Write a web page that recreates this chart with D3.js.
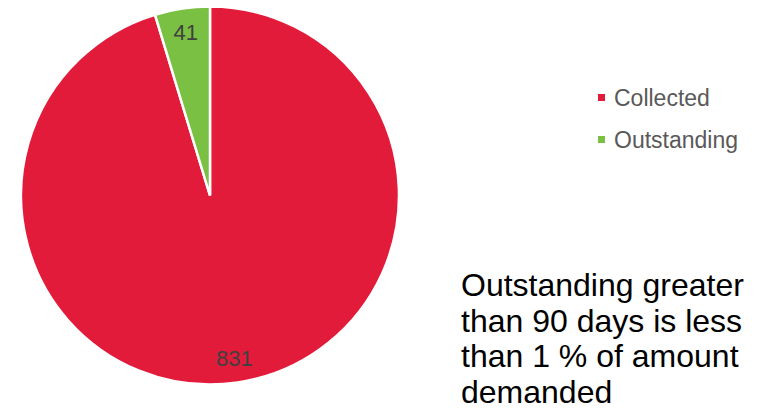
<!DOCTYPE html>
<html>
<head>
<meta charset="utf-8">
<script src="https://cdn.jsdelivr.net/npm/d3@7"></script>
<style>
  body { margin: 0; background: #fff; }
  svg { display: block; font-family: Arial, "Liberation Sans", sans-serif; }
</style>
</head>
<body>
<svg id="chart" width="758" height="411"></svg>
<script>
const categories = ['Collected', 'Outstanding'];
const values = [831, 41];
const colors = ['#E31B3A', '#7AC143'];
const note = ['Outstanding greater', 'than 90 days is less', 'than 1 % of amount', 'demanded'];

const svg = d3.select('#chart');
const cx = 210, cy = 195.5, radius = 189;

const data = categories.map((c, i) => ({ name: c, value: values[i], color: colors[i] }));

const pie = d3.pie().sort(null).value(d => d.value);
const arc = d3.arc().innerRadius(0).outerRadius(radius);
const labelArc = d3.arc().innerRadius(165).outerRadius(165);

const g = svg.append('g').attr('transform', 'translate(' + cx + ',' + cy + ')');
const arcs = pie(data);

g.selectAll('path')
  .data(arcs)
  .enter().append('path')
  .attr('d', arc)
  .attr('fill', d => d.data.color)
  .attr('stroke', '#fff')
  .attr('stroke-width', 2.5)
  .attr('stroke-linejoin', 'miter');

g.selectAll('text.lbl')
  .data(arcs)
  .enter().append('text')
  .attr('class', 'lbl')
  .attr('transform', d => 'translate(' + labelArc.centroid(d) + ')')
  .attr('text-anchor', 'middle')
  .attr('dy', '0.35em')
  .attr('font-size', 22)
  .attr('fill', '#404040')
  .text(d => d.data.value);

// legend
const legend = svg.append('g').attr('transform', 'translate(598,94)');
const item = legend.selectAll('g')
  .data(data)
  .enter().append('g')
  .attr('transform', (d, i) => 'translate(0,' + i * 42 + ')');
item.append('rect')
  .attr('width', 7).attr('height', 7)
  .attr('fill', d => d.color);
item.append('text')
  .attr('x', 16).attr('y', 3.5)
  .attr('dy', '0.35em')
  .attr('font-size', 23)
  .attr('fill', '#595959')
  .text(d => d.name);

// note
svg.append('g').selectAll('text')
  .data(note)
  .enter().append('text')
  .attr('x', 461)
  .attr('y', (d, i) => 296 + i * 35.7)
  .attr('font-size', 32)
  .attr('fill', '#000')
  .text(d => d);
</script>
</body>
</html>
